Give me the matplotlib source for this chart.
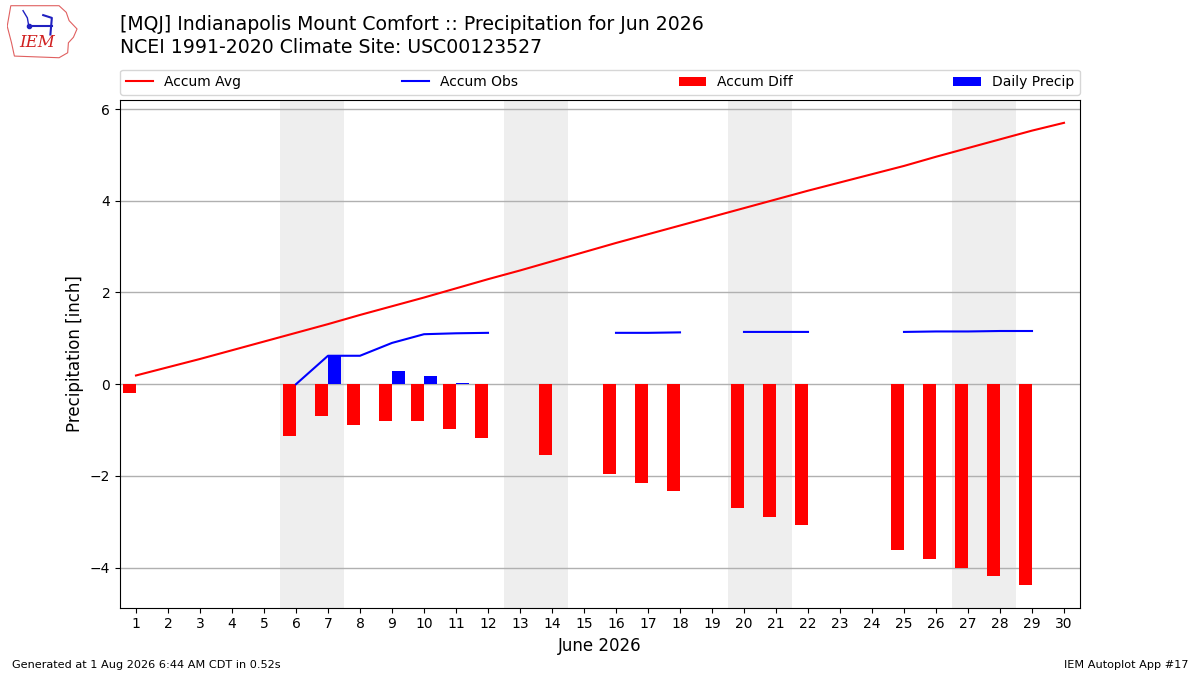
import numpy as np
import matplotlib
matplotlib.use("Agg")
import matplotlib.pyplot as plt
from matplotlib.patches import Polygon

days = list(range(1, 31))
accum_avg = [0.19, 0.37, 0.55, 0.74, 0.93, 1.12, 1.31, 1.51, 1.70, 1.89,
             2.09, 2.29, 2.48, 2.68, 2.88, 3.08, 3.27, 3.46, 3.65, 3.84,
             4.03, 4.22, 4.40, 4.58, 4.76, 4.96, 5.15, 5.34, 5.53, 5.70]
nan = np.nan
accum_obs = [0.00, nan, nan, nan, nan, 0.00, 0.62, 0.62, 0.90, 1.09,
             1.11, 1.12, nan, 1.13, nan, 1.12, 1.12, 1.13, nan, 1.14,
             1.14, 1.14, nan, nan, 1.14, 1.15, 1.15, 1.16, 1.16, nan]
daily_precip = [0.00, nan, nan, nan, nan, 0.00, 0.62, 0.00, 0.28, 0.17,
                0.02, 0.01, nan, 0.00, nan, 0.00, 0.00, 0.00, nan, 0.00,
                0.00, 0.00, nan, nan, 0.00, 0.00, 0.00, 0.00, 0.00, nan]
weekends = [6, 13, 20, 27]

title1 = "[MQJ] Indianapolis Mount Comfort :: Precipitation for Jun 2026"
title2 = "NCEI 1991-2020 Climate Site: USC00123527"

x = np.array(days, dtype=float)
avg = np.array(accum_avg)
obs = np.array(accum_obs)
diff = obs - avg
daily = np.array(daily_precip)

fig = plt.figure(figsize=(12, 6.75), dpi=100)
ax = fig.add_axes([0.1, 0.1, 0.8, 0.752])

for w in weekends:
    ax.axvspan(w - 0.5, w + 1.5, color="#EEEEEE", zorder=0, lw=0)

ax.plot(x, avg, color="r", lw=1.5, label="Accum Avg", zorder=3)
ax.plot(x, obs, color="b", lw=1.5, label="Accum Obs", zorder=3)
ax.bar(x - 0.2, np.nan_to_num(diff, nan=0.0), width=0.4, color="r",
       label="Accum Diff", zorder=2)
ax.bar(x + 0.2, np.nan_to_num(daily, nan=0.0), width=0.4, color="b",
       label="Daily Precip", zorder=2)

ax.set_xlim(0.5, 30.5)
ax.set_ylim(-4.87, 6.2)
ax.set_xticks(days)
ax.set_xticklabels([str(d) for d in days])
ax.set_yticks([-4, -2, 0, 2, 4, 6])
ax.grid(axis="y", color="#b0b0b0", lw=1, zorder=1)
ax.set_axisbelow(True)
ax.tick_params(labelsize=10)
ax.set_xlabel("June 2026", fontsize=12)
ax.set_ylabel("Precipitation [inch]", fontsize=12)

ax.legend(loc="lower left", bbox_to_anchor=(0, 1.01, 1, 0.1), mode="expand",
          ncol=4, fontsize=10, borderaxespad=0)

fig.text(0.1, 0.963, title1, fontsize=13.6, va="center", ha="left")
fig.text(0.1, 0.929, title2, fontsize=13.6, va="center", ha="left")

fig.text(0.01, 0.015, "Generated at 1 Aug 2026 6:44 AM CDT in 0.52s",
         fontsize=8.1, ha="left", va="center")
fig.text(0.99, 0.015, "IEM Autoplot App #17", fontsize=8.1, ha="right",
         va="center")

# approximate logo
lax = fig.add_axes([0.006, 0.912, 0.06, 0.082])
lax.set_xlim(0, 1)
lax.set_ylim(0, 1)
lax.axis("off")
outline = [(0.05, 0.97), (0.72, 0.97), (0.82, 0.85), (0.86, 0.7), (0.97, 0.55),
           (0.92, 0.4), (0.85, 0.3), (0.84, 0.12), (0.72, 0.03), (0.1, 0.06),
           (0.06, 0.3), (0.0, 0.6)]
lax.add_patch(Polygon(outline, closed=True, fill=False, ec="#e06060", lw=0.8))
lax.text(0.42, 0.3, "IEM", color="#d02020", fontsize=12, style="italic",
         family="serif", ha="center", va="center")
lax.plot([0.3, 0.62], [0.6, 0.6], color="#2020c0", lw=1.5)
lax.plot([0.3], [0.6], "o", color="#2020c0", ms=3)
lax.plot([0.22, 0.28, 0.3], [0.88, 0.75, 0.6], color="#2020c0", lw=1)
lax.plot([0.5, 0.62, 0.6], [0.8, 0.75, 0.45], color="#2020c0", lw=1.5)

fig.savefig("out.png", dpi=100)
